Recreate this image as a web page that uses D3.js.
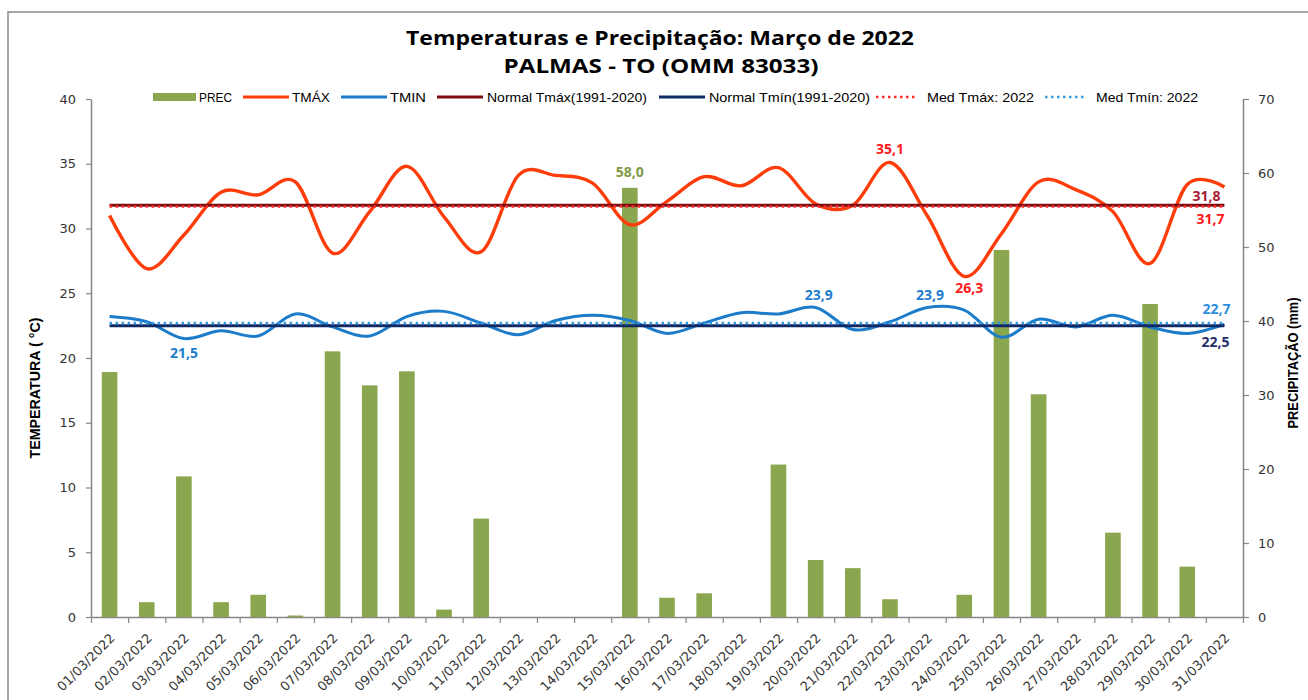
<!DOCTYPE html>
<html>
<head>
<meta charset="utf-8">
<script src="https://cdn.jsdelivr.net/npm/d3@7"></script>
<style>
  body { margin: 0; background: #fff; }
  svg { display: block; }
</style>
</head>
<body>
<svg id="chart" width="1308" height="700"></svg>
<script>
//Categories (days of March 2022)
const days = ['01/03/2022','02/03/2022','03/03/2022','04/03/2022','05/03/2022','06/03/2022','07/03/2022',
  '08/03/2022','09/03/2022','10/03/2022','11/03/2022','12/03/2022','13/03/2022','14/03/2022','15/03/2022',
  '16/03/2022','17/03/2022','18/03/2022','19/03/2022','20/03/2022','21/03/2022','22/03/2022','23/03/2022',
  '24/03/2022','25/03/2022','26/03/2022','27/03/2022','28/03/2022','29/03/2022','30/03/2022','31/03/2022'];

//Daily precipitation (mm), right axis
const prec = [33.1, 2.0, 19.0, 2.0, 3.0, 0.2, 35.9, 31.3, 33.2, 1.0, 13.3, 0, 0, 0, 58.0,
  2.6, 3.2, 0, 20.6, 7.7, 6.6, 2.4, 0, 3.0, 49.6, 30.1, 0, 11.4, 42.3, 6.8, 0];

//Daily max / min temperature (°C), left axis
const tmax = [31.0, 26.9, 29.5, 32.8, 32.6, 33.6, 28.1, 31.3, 34.8, 30.9, 28.2, 34.1, 34.1, 33.5, 30.3,
  32.1, 34.0, 33.3, 34.7, 31.9, 31.8, 35.1, 31.0, 26.3, 29.6, 33.6, 33.0, 31.3, 27.3, 33.4, 33.2];
const tmin = [23.2, 22.8, 21.5, 22.1, 21.7, 23.4, 22.4, 21.7, 23.2, 23.6, 22.7, 21.8, 22.9, 23.3, 22.9,
  21.9, 22.7, 23.5, 23.4, 23.9, 22.2, 22.8, 23.9, 23.7, 21.6, 23.0, 22.4, 23.3, 22.4, 21.9, 22.6];

//Climatological normals 1991-2020
const normalTmax = 31.8;
const normalTmin = 22.5;

//Axis ticks
const tempTicks = [0, 5, 10, 15, 20, 25, 30, 35, 40];
const precTicks = [0, 10, 20, 30, 40, 50, 60, 70];

//Legend labels
const legendLabels = ['PREC', 'TMÁX', 'TMIN', 'Normal Tmáx(1991-2020)', 'Normal Tmín(1991-2020)', 'Med Tmáx: 2022', 'Med Tmín: 2022'];

//Colors
const cPrec = '#8aa64e', cTmax = '#ff3d0a', cTmin = '#1c7cc9';
const cNormMax = '#7d0c10', cNormMin = '#0f2a66', cMedMax = '#ff2a2a', cMedMin = '#3399e0';

const plot = {left: 91, right: 1243, top: 99, bottom: 617};
const svg = d3.select('#chart');

//Outer frame (only top and left visible)
svg.append('path')
  .attr('d', 'M8,700 V12 H1308')
  .attr('fill', 'none').attr('stroke', '#8a8a8a').attr('stroke-width', 1.5);

//Titles
svg.append('text')
  .attr('x', 660).attr('y', 45).attr('text-anchor', 'middle')
  .attr('textLength', 508).attr('lengthAdjust', 'spacingAndGlyphs')
  .style('font', '700 20px "Open Sans"').attr('fill', '#000')
  .text('Temperaturas  e Precipitação: Março de 2022');
svg.append('text')
  .attr('x', 661).attr('y', 73).attr('text-anchor', 'middle')
  .attr('textLength', 315).attr('lengthAdjust', 'spacingAndGlyphs')
  .style('font', '700 20px "Open Sans"').attr('fill', '#000')
  .text('PALMAS - TO (OMM 83033)');

//Scales
const x = d3.scaleBand().domain(days).range([plot.left, plot.right]);
const bw = x.bandwidth();
const cx = (d) => x(d) + bw / 2;
const yT = d3.scaleLinear().domain([0, 40]).range([plot.bottom, plot.top]);
const yP = d3.scaleLinear().domain([0, 70]).range([plot.bottom, plot.top]);

function styleAxis(g) {
  g.select('.domain').attr('stroke', '#868686').attr('stroke-width', 1.5);
  g.selectAll('.tick line').attr('stroke', '#868686').attr('stroke-width', 1.2);
  g.selectAll('.tick text').attr('fill', '#333')
    .style('font', '13px "DejaVu Sans"');
}

//Left axis
svg.append('g')
  .attr('transform', 'translate(' + plot.left + ',0)')
  .call(d3.axisLeft(yT).tickValues(tempTicks).tickSize(5).tickPadding(10).tickSizeOuter(0))
  .call(styleAxis);

//Right axis
svg.append('g')
  .attr('transform', 'translate(' + plot.right + ',0)')
  .call(d3.axisRight(yP).tickValues(precTicks).tickSize(6).tickPadding(9).tickSizeOuter(0))
  .call(styleAxis);

//Bottom axis: ticks at category boundaries
const xb = d3.scaleLinear().domain([0, days.length]).range([plot.left, plot.right]);
svg.append('g')
  .attr('transform', 'translate(0,' + plot.bottom + ')')
  .call(d3.axisBottom(xb).tickValues(d3.range(0, days.length + 1)).tickSize(6).tickFormat('').tickSizeOuter(0))
  .call(styleAxis);

//Bottom labels, rotated
const xl = svg.append('g')
  .attr('transform', 'translate(0,' + plot.bottom + ')')
  .call(d3.axisBottom(x).tickSize(0));
xl.select('.domain').remove();
xl.selectAll('.tick text')
  .attr('x', 0).attr('y', 0).attr('dy', 0)
  .attr('text-anchor', 'end')
  .attr('transform', 'translate(6,22) rotate(-45)')
  .attr('fill', '#333')
  .style('font', '13px "DejaVu Sans"');

//Axis titles
svg.append('text')
  .attr('transform', 'translate(40,388) rotate(-90)')
  .attr('text-anchor', 'middle')
  .attr('textLength', 141).attr('lengthAdjust', 'spacingAndGlyphs')
  .style('font', '700 14px "Liberation Sans"').attr('fill', '#000')
  .text('TEMPERATURA  ( °C)');
svg.append('text')
  .attr('transform', 'translate(1298,363) rotate(-90)')
  .attr('text-anchor', 'middle')
  .attr('textLength', 131).attr('lengthAdjust', 'spacingAndGlyphs')
  .style('font', '700 14px "Liberation Sans"').attr('fill', '#000')
  .text('PRECIPITAÇÃO (mm)');

//Precipitation bars
const barW = bw * 0.42;
svg.append('g').selectAll('rect')
  .data(prec)
  .enter().append('rect')
  .attr('x', (d, i) => cx(days[i]) - barW / 2)
  .attr('y', d => yP(d))
  .attr('width', barW)
  .attr('height', d => plot.bottom - yP(d))
  .attr('fill', cPrec);

//Lines
const smooth = d3.line()
  .x((d, i) => cx(days[i]))
  .y(d => yT(d))
  .curve(d3.curveCatmullRom.alpha(0));
const straight = d3.line()
  .x((d, i) => cx(days[i]))
  .y(d => yT(d));

const medTmax = Math.round(d3.mean(tmax) * 10) / 10;
const medTmin = Math.round(d3.mean(tmin) * 10) / 10;

svg.append('path').datum(tmax)
  .attr('d', smooth).attr('fill', 'none').attr('stroke', cTmax).attr('stroke-width', 3.4);
svg.append('path').datum(tmin)
  .attr('d', smooth).attr('fill', 'none').attr('stroke', cTmin).attr('stroke-width', 3);
svg.append('path').datum(days.map(() => normalTmax))
  .attr('d', straight).attr('fill', 'none').attr('stroke', cNormMax).attr('stroke-width', 3);
svg.append('path').datum(days.map(() => normalTmin))
  .attr('d', straight).attr('fill', 'none').attr('stroke', cNormMin).attr('stroke-width', 3);
svg.append('path').datum(days.map(() => medTmax))
  .attr('d', straight).attr('fill', 'none').attr('stroke', cMedMax).attr('stroke-width', 2.5)
  .attr('stroke-dasharray', '2.5,3.5');
svg.append('path').datum(days.map(() => medTmin))
  .attr('d', straight).attr('fill', 'none').attr('stroke', cMedMin).attr('stroke-width', 2.5)
  .attr('stroke-dasharray', '2.5,3.5');

//Data labels (max and min of each series)
const fmt = v => v.toFixed(1).replace('.', ',');
const labelFont = '700 14px "Open Sans"';
function addLabel(xp, yp, txt, color, anchor) {
  svg.append('text')
    .attr('x', xp).attr('y', yp)
    .attr('text-anchor', anchor || 'middle')
    .style('font', labelFont).attr('fill', color)
    .text(txt);
}
const pMax = d3.max(prec);
prec.forEach((v, i) => { if (v === pMax) addLabel(cx(days[i]), yP(v) - 11, fmt(v), '#7f9b45'); });
const txMax = d3.max(tmax), txMin = d3.min(tmax);
tmax.forEach((v, i) => {
  if (v === txMax) addLabel(cx(days[i]), yT(v) - 8, fmt(v), '#ff1a1a');
  if (v === txMin) addLabel(cx(days[i]) + 5, yT(v) + 17, fmt(v), '#ff1a1a');
});
const tnMax = d3.max(tmin), tnMin = d3.min(tmin);
tmin.forEach((v, i) => {
  if (v === tnMax) addLabel(cx(days[i]) + 3, yT(v) - 7, fmt(v), '#1e7dcb');
  if (v === tnMin) addLabel(cx(days[i]), yT(v) + 19, fmt(v), '#1e7dcb');
});

//End labels for normals and means
const xEnd = cx(days[days.length - 1]);
addLabel(xEnd - 4, yT(normalTmax) - 4, fmt(normalTmax), '#a51c30', 'end');
addLabel(xEnd, yT(medTmax) + 18, fmt(medTmax), '#ff1a1a', 'end');
addLabel(xEnd + 6, yT(medTmin) - 9, fmt(medTmin), '#2a8ee0', 'end');
addLabel(xEnd + 5, yT(normalTmin) + 21, fmt(normalTmin), '#1f2f6b', 'end');

//Legend
const legendY = 97;
const swX = [153, 243, 341, 437, 659, 876, 1045];
const swW = [43, 46, 46, 46, 46, 40, 42];
const txX = [199, 292, 390, 487, 709, 927, 1096];
const txW = [33, 38, 36, 160, 161, 107, 102];
const legColors = [cPrec, cTmax, cTmin, cNormMax, cNormMin, cMedMax, cMedMin];
const leg = svg.append('g');
legendLabels.forEach((lab, i) => {
  if (i === 0) {
    leg.append('rect').attr('x', swX[i]).attr('y', legendY - 4).attr('width', swW[i]).attr('height', 8)
      .attr('fill', legColors[i]);
  } else {
    leg.append('line')
      .attr('x1', swX[i]).attr('x2', swX[i] + swW[i])
      .attr('y1', legendY).attr('y2', legendY)
      .attr('stroke', legColors[i]).attr('stroke-width', i >= 5 ? 2.5 : 3)
      .attr('stroke-dasharray', i >= 5 ? '2.5,3.5' : null);
  }
  leg.append('text')
    .attr('x', txX[i]).attr('y', legendY + 4.5)
    .attr('textLength', txW[i]).attr('lengthAdjust', 'spacingAndGlyphs')
    .style('font', '13px "Liberation Sans"').attr('fill', '#000')
    .text(lab);
});
</script>
</body>
</html>
